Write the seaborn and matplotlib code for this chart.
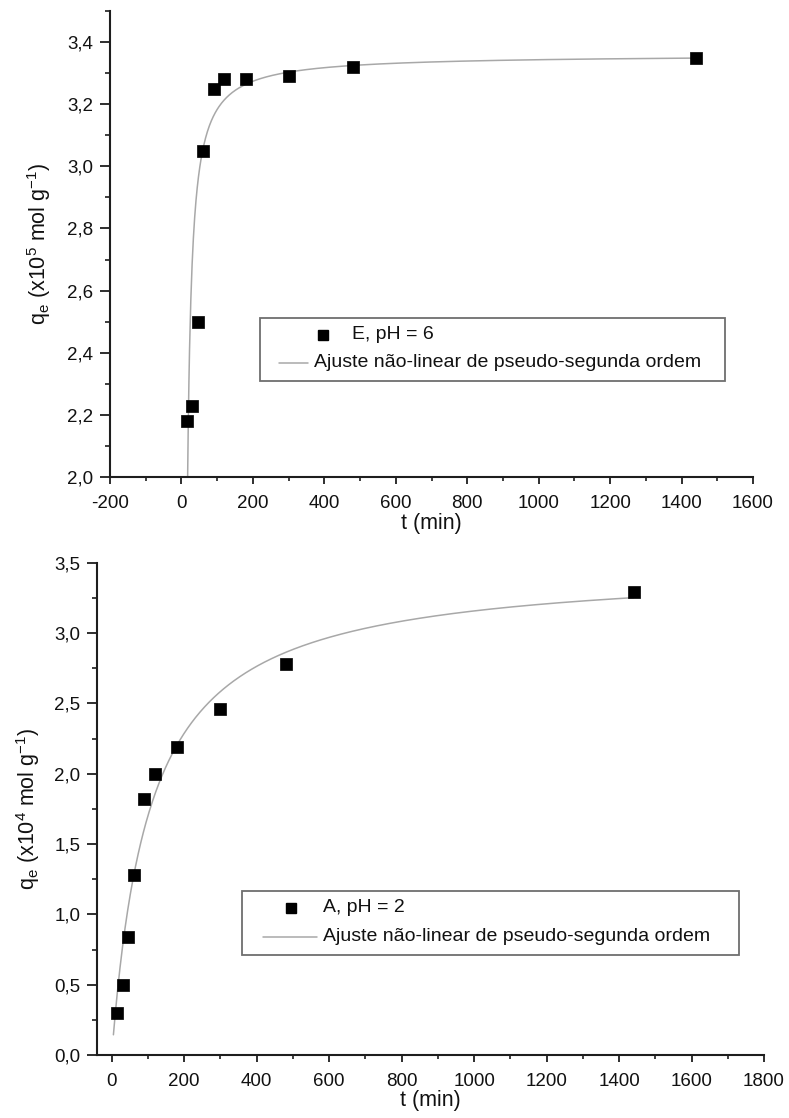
import numpy as np
import pandas as pd
import matplotlib
matplotlib.use("Agg")
import matplotlib.pyplot as plt
import seaborn as sns
from matplotlib.patches import Rectangle
from matplotlib.lines import Line2D
from matplotlib.ticker import MultipleLocator, FuncFormatter

# ---- kinetic data -------------------------------------------------------
t_min = [15, 30, 45, 60, 90, 120, 180, 300, 480, 1440]
q_e_ph6 = [2.18, 2.23, 2.50, 3.05, 3.25, 3.28, 3.28, 3.29, 3.32, 3.35]   # x10^5 mol/g
q_a_ph2 = [0.30, 0.50, 0.84, 1.28, 1.82, 2.00, 2.19, 2.46, 2.78, 3.29]   # x10^4 mol/g

labels_e = ["E, pH = 6", "Ajuste não-linear de pseudo-segunda ordem"]
labels_a = ["A, pH = 2", "Ajuste não-linear de pseudo-segunda ordem"]

# pseudo-second-order model parameters (qe, k, lag)
fit_e = (3.36, 0.0595, 10.0)
fit_a = (3.49, 0.00273, 0.0)


def pso(t, qe, k, lag):
    tt = np.clip(t - lag, 0, None)
    return qe ** 2 * k * tt / (1 + qe * k * tt)


sns.set_theme(style="ticks")
plt.rcParams["font.family"] = ["Liberation Sans", "DejaVu Sans"]
plt.rcParams["mathtext.default"] = "regular"
plt.rcParams["axes.unicode_minus"] = False

fig = plt.figure(figsize=(7.89, 11.18), dpi=100)
ax1 = fig.add_axes([0.1394, 0.5733, 0.8150, 0.4169])
ax2 = fig.add_axes([0.1233, 0.0564, 0.8450, 0.4401])

AX_COL = "#1e1e1e"
FIT_COL = "#a8a8a8"
TXT_COL = "#111111"

comma = FuncFormatter(lambda v, p: f"{v:.1f}".replace(".", ","))
intfmt = FuncFormatter(lambda v, p: f"{v:.0f}")


def style_axes(ax, xlim, ylim, xmaj, xmin, ymaj, ymin):
    ax.set_xlim(*xlim)
    ax.set_ylim(*ylim)
    for s in ("top", "right"):
        ax.spines[s].set_visible(False)
    for s in ("left", "bottom"):
        ax.spines[s].set_color(AX_COL)
        ax.spines[s].set_linewidth(1.5)
    ax.xaxis.set_major_locator(MultipleLocator(xmaj))
    ax.xaxis.set_minor_locator(MultipleLocator(xmin))
    ax.yaxis.set_major_locator(MultipleLocator(ymaj))
    ax.yaxis.set_minor_locator(MultipleLocator(ymin))
    ax.xaxis.set_major_formatter(intfmt)
    ax.yaxis.set_major_formatter(comma)
    ax.tick_params(axis="x", which="major", length=5, width=1.3, color=AX_COL,
                   labelsize=13.5, pad=8, direction="out", labelcolor=TXT_COL)
    ax.tick_params(axis="x", which="minor", length=3, width=1.2, color=AX_COL,
                   direction="out")
    ax.tick_params(axis="y", which="major", length=7, width=1.3, color=AX_COL,
                   labelsize=13.5, pad=5, direction="out", labelcolor=TXT_COL)
    ax.tick_params(axis="y", which="minor", length=3.5, width=1.2, color=AX_COL,
                   direction="out")
    ax.set_facecolor("white")


def draw_legend(ax, box, marker_xy, text1_xy, line_x, line_y, text2_x, labels):
    x0, y0, x1, y1 = box
    ax.add_patch(Rectangle((x0, y0), x1 - x0, y1 - y0, transform=ax.transAxes,
                           fill=True, facecolor="white", edgecolor="#6e6e6e",
                           linewidth=1.3, zorder=5, clip_on=False))
    ax.add_line(Line2D([marker_xy[0]], [marker_xy[1]], transform=ax.transAxes,
                       marker="s", markersize=7, color="black", linestyle="none",
                       zorder=6))
    ax.text(text1_xy[0], text1_xy[1], labels[0], transform=ax.transAxes,
            fontsize=14, va="center", ha="left", color=TXT_COL, zorder=6)
    ax.add_line(Line2D(line_x, [line_y, line_y], transform=ax.transAxes,
                       color=FIT_COL, linewidth=1.1, zorder=6))
    ax.text(text2_x, line_y, labels[1], transform=ax.transAxes,
            fontsize=14, va="center", ha="left", color=TXT_COL, zorder=6)


# ---- top panel: E, pH 6 --------------------------------------------------
df_e = pd.DataFrame({"t": t_min, "q": q_e_ph6})
t_fit_e = np.linspace(fit_e[2] + 0.2, t_min[-1], 800)
fit_df_e = pd.DataFrame({"t": t_fit_e, "q": pso(t_fit_e, *fit_e)})
sns.lineplot(data=fit_df_e, x="t", y="q", ax=ax1, color=FIT_COL, linewidth=1.1,
             zorder=2)
sns.scatterplot(data=df_e, x="t", y="q", ax=ax1, marker="s", s=75,
                color="black", edgecolor="black", linewidth=0.5, zorder=3)
style_axes(ax1, (-200, 1600), (2.0, 3.5), 200, 100, 0.2, 0.1)
ax1.set_xlabel("t (min)", fontsize=15.5, labelpad=1, color=TXT_COL)
ax1.set_ylabel("q$_e$ (x10$^5$ mol g$^{-1}$)", fontsize=15.5, color=TXT_COL)
ax1.yaxis.set_label_coords(-0.088, 0.5)
draw_legend(ax1, (0.2333, 0.206, 0.9565, 0.341), (0.331, 0.305), (0.376, 0.305),
            [0.263, 0.308], 0.245, 0.317, labels_e)

# ---- bottom panel: A, pH 2 -----------------------------------------------
df_a = pd.DataFrame({"t": t_min, "q": q_a_ph2})
t_fit_a = np.linspace(4.5, t_min[-1], 800)
fit_df_a = pd.DataFrame({"t": t_fit_a, "q": pso(t_fit_a, *fit_a)})
sns.lineplot(data=fit_df_a, x="t", y="q", ax=ax2, color=FIT_COL, linewidth=1.1,
             zorder=2)
sns.scatterplot(data=df_a, x="t", y="q", ax=ax2, marker="s", s=75,
                color="black", edgecolor="black", linewidth=0.5, zorder=3)
style_axes(ax2, (-40, 1800), (0.0, 3.5), 200, 100, 0.5, 0.25)
ax2.set_xlabel("t (min)", fontsize=15.5, labelpad=0, color=TXT_COL)
ax2.set_ylabel("q$_e$ (x10$^4$ mol g$^{-1}$)", fontsize=15.5, color=TXT_COL)
ax2.yaxis.set_label_coords(-0.083, 0.5)
draw_legend(ax2, (0.217, 0.203, 0.9625, 0.334), (0.2905, 0.2994), (0.338, 0.2994),
            [0.2485, 0.3295], 0.2398, 0.338, labels_a)

fig.savefig("out.png", dpi=100, facecolor="white")
